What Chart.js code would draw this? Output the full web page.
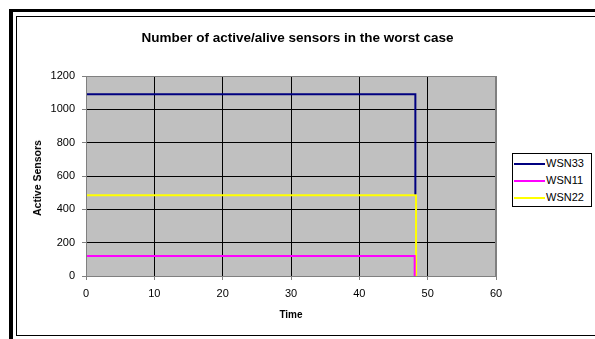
<!DOCTYPE html>
<html>
<head>
<meta charset="utf-8">
<script src="https://cdn.jsdelivr.net/npm/chart.js@4/dist/chart.umd.min.js"></script>
<style>
  html, body { margin: 0; padding: 0; background: #fff; }
  body { width: 595px; height: 339px; position: relative; overflow: hidden; font-family: "Liberation Sans", Arial, sans-serif; }
  #outer { position: absolute; left: 9px; top: 9px; width: 600px; height: 330px; border-left: 4px solid #000; border-top: 3px solid #000; box-sizing: border-box; }
  #inner { position: absolute; left: 16px; top: 16px; width: 600px; height: 320px; border: 1px solid #000; box-sizing: border-box; }
  #chart { position: absolute; left: 0; top: 0; }
  .t { position: absolute; color: #000; white-space: nowrap; font-weight: bold; }
  #title { left: 0; width: 595px; top: 30px; text-align: center; font-size: 13.5px; }
  #xtitle { left: 86px; width: 410px; top: 309px; text-align: center; font-size: 10px; }
  #ytitle { left: 37px; top: 178px; font-size: 10.5px; transform: translate(-50%, -50%) rotate(-90deg); }
  #legend { position: absolute; left: 512px; top: 153px; width: 80px; height: 54px; border: 1px solid #000; box-sizing: border-box; background: #fff; }
  .item { position: absolute; left: 0; height: 18px; width: 80px; }
  .item .ln { position: absolute; left: 1px; top: 8px; width: 31px; height: 2px; }
  .item .lb { position: absolute; left: 33px; top: 2px; font-size: 11px; }
</style>
</head>
<body>
<div id="outer"></div>
<div id="inner"></div>
<canvas id="chart" width="595" height="339"></canvas>
<div class="t" id="title">Number of active/alive sensors in the worst case</div>
<div class="t" id="xtitle">Time</div>
<div class="t" id="ytitle">Active Sensors</div>
<div id="legend"></div>
<script>
// Series: each network holds a constant count until it dies near t = 48
const seriesNames = ["WSN33", "WSN11", "WSN22"];
const seriesColors = ["#000080", "#FF00FF", "#FFFF00"];
const wsn33Time = [0, 48.2, 48.2];
const wsn33Alive = [1090, 1090, 490];
const wsn11Time = [0, 48.1, 48.1];
const wsn11Alive = [120, 120, 0];
const wsn22Time = [0, 48.3, 48.3];
const wsn22Alive = [485, 485, 0];

const xTicks = [0, 10, 20, 30, 40, 50, 60];
const yTicks = [0, 200, 400, 600, 800, 1000, 1200];

const toPoints = (xs, ys) => xs.map((x, i) => ({ x: x, y: ys[i] }));
const seriesData = [
  toPoints(wsn33Time, wsn33Alive),
  toPoints(wsn11Time, wsn11Alive),
  toPoints(wsn22Time, wsn22Alive)
];

// grey plot background with a grey frame
const plotFrame = {
  id: "plotFrame",
  beforeDraw(chart) {
    const a = chart.chartArea, c = chart.ctx;
    c.save();
    c.fillStyle = "#C0C0C0";
    c.fillRect(a.left, a.top, a.right - a.left, a.bottom - a.top);
    c.restore();
  },
  afterDraw(chart) {
    const a = chart.chartArea, c = chart.ctx;
    c.save();
    c.strokeStyle = "#808080";
    c.lineWidth = 1;
    c.strokeRect(a.left + 0.5, a.top + 0.5, a.right - a.left - 1, a.bottom - a.top);
    c.restore();
  }
};

const tickFont = { family: "'Liberation Sans', Arial, sans-serif", size: 11 };
const plain = v => String(v);

new Chart(document.getElementById("chart"), {
  type: "scatter",
  data: {
    datasets: seriesData.map((pts, i) => ({
      label: seriesNames[i],
      data: pts,
      showLine: true,
      borderColor: seriesColors[i],
      backgroundColor: seriesColors[i],
      borderWidth: 2,
      pointRadius: 0,
      tension: 0,
      fill: false
    }))
  },
  options: {
    responsive: false,
    animation: false,
    devicePixelRatio: 1,
    layout: { padding: { left: 0, right: 99, top: 76, bottom: 0 } },
    plugins: { legend: { display: false }, title: { display: false }, tooltip: { enabled: false } },
    scales: {
      x: {
        type: "linear",
        min: xTicks[0],
        max: xTicks[xTicks.length - 1],
        afterBuildTicks(s) { s.ticks = xTicks.map(v => ({ value: v })); },
        afterFit(s) { s.height = 63; },
        grid: {
          color: ctx => (ctx.tick && (ctx.tick.value === 0 || ctx.tick.value === 60)) ? "#808080" : "#000",
          lineWidth: 1,
          tickLength: 4,
          tickColor: "#808080",
          drawOnChartArea: true
        },
        border: { color: "#808080", width: 1 },
        ticks: { color: "#000", font: tickFont, padding: 7, maxRotation: 0, callback: plain }
      },
      y: {
        type: "linear",
        min: yTicks[0],
        max: yTicks[yTicks.length - 1],
        afterBuildTicks(s) { s.ticks = yTicks.map(v => ({ value: v })); },
        afterFit(s) { s.width = 86; },
        grid: {
          color: ctx => (ctx.tick && (ctx.tick.value === 0 || ctx.tick.value === 1200)) ? "#808080" : "#000",
          lineWidth: 1,
          tickLength: 4,
          tickColor: "#808080"
        },
        border: { color: "#808080", width: 1 },
        ticks: { color: "#000", font: tickFont, padding: 7, callback: plain }
      }
    }
  },
  plugins: [plotFrame]
});

// legend entries built from the series names and colours
const legend = document.getElementById("legend");
seriesNames.forEach((name, i) => {
  const row = document.createElement("div");
  row.className = "item";
  row.style.top = (i * 17 + 1) + "px";
  const ln = document.createElement("div");
  ln.className = "ln";
  ln.style.background = seriesColors[i];
  const lb = document.createElement("div");
  lb.className = "lb";
  lb.textContent = name;
  row.appendChild(ln);
  row.appendChild(lb);
  legend.appendChild(row);
});
</script>
</body>
</html>
